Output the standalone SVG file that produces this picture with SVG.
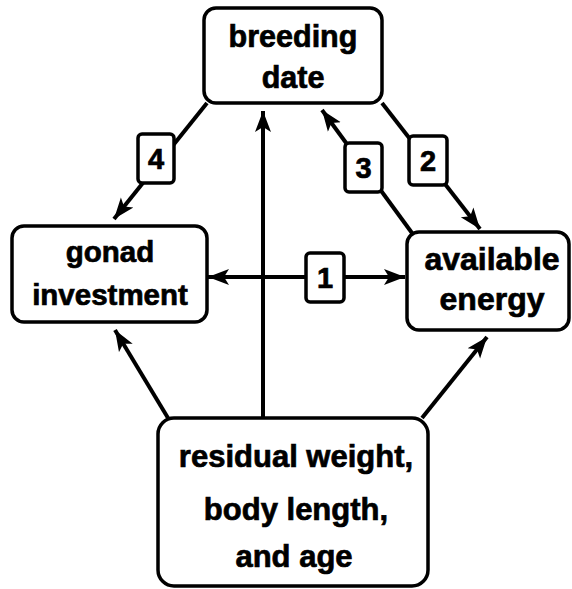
<svg xmlns="http://www.w3.org/2000/svg" width="572" height="589" viewBox="0 0 572 589">
<style>
.box{fill:#fff;stroke:#000;stroke-width:3.5}
.lbl{fill:#fff;stroke:#000;stroke-width:3.5}
.t{font-family:"Liberation Sans",Arial,sans-serif;font-weight:bold;text-anchor:middle;fill:#000;stroke:#000;stroke-width:0.7}
.e{stroke:#000;stroke-width:4;fill:none}
</style>
<defs>
<marker id="ah" markerUnits="userSpaceOnUse" markerWidth="22" markerHeight="18" viewBox="0 0 22 18" refX="21" refY="9" orient="auto-start-reverse">
<path d="M0,1 L21,9 L0,17 L5,9 z" fill="#000"/>
</marker>
</defs>
<rect width="572" height="589" fill="#fff"/>
<g id="connectors">
<line class="e" x1="207" y1="103" x2="114" y2="219" marker-end="url(#ah)"/>
<line class="e" x1="382" y1="103" x2="480" y2="229" marker-end="url(#ah)"/>
<line class="e" x1="412" y1="233" x2="322" y2="110" marker-end="url(#ah)"/>
<line class="e" x1="208" y1="277" x2="405" y2="277" marker-start="url(#ah)" marker-end="url(#ah)"/>
<line class="e" x1="168" y1="418" x2="115" y2="330" marker-end="url(#ah)"/>
<line class="e" x1="422" y1="418" x2="487" y2="337" marker-end="url(#ah)"/>
<line class="e" x1="263" y1="418" x2="263" y2="111" marker-end="url(#ah)"/>
<g id="label4"><rect class="lbl" x="138" y="134" width="36" height="49" rx="4"/><text class="t" x="156" y="169" font-size="29">4</text></g>
<g id="label3"><rect class="lbl" x="345" y="143" width="37" height="49" rx="4"/><text class="t" x="363.5" y="178" font-size="29">3</text></g>
<g id="label2"><rect class="lbl" x="409" y="136" width="38" height="49" rx="4"/><text class="t" x="428" y="171" font-size="29">2</text></g>
<g id="label1"><rect class="lbl" x="306" y="253" width="38" height="49" rx="4"/><text class="t" x="325" y="288" font-size="29">1</text></g>
</g>
<g id="breeding">
<rect class="box" x="204" y="8" width="178" height="95" rx="12"/>
<text class="t" x="293" y="47" font-size="30.5">breeding</text>
<text class="t" x="293" y="88" font-size="30.5">date</text>
</g>
<g id="gonad">
<rect class="box" x="12" y="226" width="195" height="96" rx="12"/>
<text class="t" x="110" y="262" font-size="29.5">gonad</text>
<text class="t" x="110" y="305" font-size="29.5">investment</text>
</g>
<g id="energy">
<rect class="box" x="407" y="232" width="162" height="98" rx="12"/>
<text class="t" x="492" y="270" font-size="32">available</text>
<text class="t" x="492" y="310" font-size="32">energy</text>
</g>
<g id="residual">
<rect class="box" x="158" y="418" width="270" height="168" rx="16"/>
<text class="t" x="296" y="467" font-size="31">residual weight,</text>
<text class="t" x="296" y="520" font-size="31">body length,</text>
<text class="t" x="294" y="567" font-size="31">and age</text>
</g>
</svg>
